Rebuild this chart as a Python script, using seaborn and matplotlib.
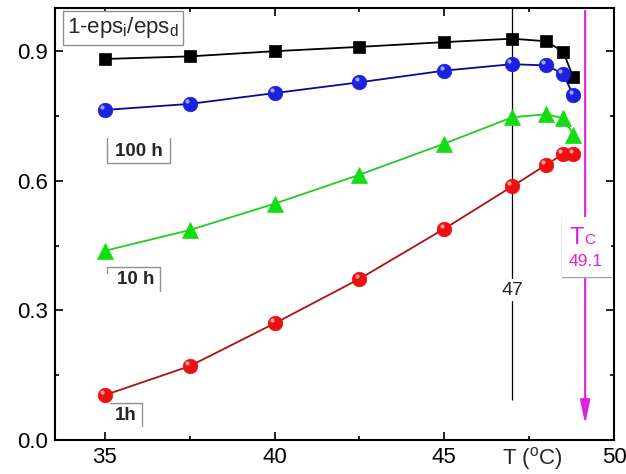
import numpy as np
import pandas as pd
import seaborn as sns
import matplotlib.pyplot as plt
from matplotlib.lines import Line2D
from matplotlib.patches import Rectangle
from matplotlib.ticker import MultipleLocator

# temperatures (deg C) and 1-eps_i/eps_d for each ageing time
temps = [35, 37.5, 40, 42.5, 45, 47, 48, 48.5, 48.8]
h100_sq = [0.882, 0.888, 0.900, 0.910, 0.921, 0.929, 0.923, 0.899, 0.840]
h100_ci = [0.764, 0.778, 0.803, 0.828, 0.855, 0.870, 0.867, 0.848, 0.798]
h10 = [0.438, 0.486, 0.547, 0.614, 0.686, 0.747, 0.754, 0.745, 0.707]
h1 = [0.104, 0.171, 0.270, 0.373, 0.489, 0.587, 0.637, 0.662, 0.662]

x_ticks = [35, 40, 45, 50]
x_labels = ["35", "40", "45", "50"]
y_ticks = [0.0, 0.3, 0.6, 0.9]
y_labels = ["0.0", "0.3", "0.6", "0.9"]
t_mark = 47
t_c = 49.15

sns.set_theme(style="ticks")
plt.rcParams["font.family"] = ["Liberation Sans", "DejaVu Sans"]
plt.rcParams["mathtext.fontset"] = "custom"
plt.rcParams["mathtext.rm"] = "Liberation Sans"
plt.rcParams["mathtext.it"] = "Liberation Sans"

W, H = 626, 474
fig = plt.figure(figsize=(W / 100, H / 100), dpi=100)
ax = fig.add_axes([55 / W, 1 - 440 / H, (614 - 55) / W, (440 - 8) / H])

series = [
    (h100_sq, "s", "black", "black", 9),
    (h100_ci, "o", "#0a0a8c", "#1a22e0", 10.5),
    (h10, "^", "#22cc22", "#11dd11", 11),
    (h1, "o", "#b01010", "#ee1010", 10.5),
]
for vals, mk, lc, fc, ms in series:
    df = pd.DataFrame({"T": temps, "v": vals})
    sns.lineplot(data=df, x="T", y="v", ax=ax, color=lc, marker=mk,
                 markersize=ms, markerfacecolor=fc, markeredgecolor=fc,
                 markeredgewidth=0.5, linewidth=1.3, zorder=3)
    if mk == "o":
        # little highlight for the sphere look
        ax.plot(np.array(temps) - 0.08, np.array(vals) + 0.007, "o",
                ms=3, color="white", alpha=0.6, zorder=4, mec="none")

ax.set_xlim(33.53, 50)
ax.set_ylim(0, 1.0)
ax.set_xticks(x_ticks)
ax.set_xticklabels(x_labels)
ax.set_yticks(y_ticks)
ax.set_yticklabels(y_labels)
ax.xaxis.set_minor_locator(MultipleLocator(2.5))
ax.yaxis.set_minor_locator(MultipleLocator(0.15))
ax.tick_params(which="both", direction="in", top=True, right=True,
               labelsize=16, color="black", labelcolor="black", width=1.2)
ax.tick_params(which="major", length=6, pad=5)
ax.tick_params(which="minor", length=3)
for s in ax.spines.values():
    s.set_linewidth(1.5)
    s.set_color("black")
ax.set_xlabel("")
ax.set_ylabel("")

# vertical marker at 47
ax.vlines(t_mark, 0.093, 1.0, color="black", linewidth=0.9, zorder=2)
ax.text(t_mark, 0.347, "47", ha="center", va="center", fontsize=14,
        zorder=5, bbox=dict(facecolor="white", edgecolor="none", pad=1.5))

# Tc arrow
ax.annotate("", xy=(t_c, 0.03), xytext=(t_c, 1.0),
            arrowprops=dict(arrowstyle="-|>,head_width=0.25,head_length=1.2",
                            color="#e020e0", lw=1.5), zorder=2)


def fx(x):
    return x / W


def fy(y):
    return 1 - y / H


def frame(segs, color="#909090"):
    for (x0, y0), (x1, y1) in segs:
        fig.add_artist(Line2D([fx(x0), fx(x1)], [fy(y0), fy(y1)],
                              color=color, lw=1.0, transform=fig.transFigure))


# T (oC) sitting between the tick labels
fig.text(fx(532), fy(458), "T ($^\\mathrm{o}$C)", ha="center", va="center",
         fontsize=16)

# Tc box
fig.add_artist(Rectangle((fx(562), fy(277)), (611 - 562) / W, (277 - 217) / H,
                         facecolor="white", edgecolor="none",
                         transform=fig.transFigure, zorder=4))
frame([((562, 217), (562, 277)), ((562, 277), (611, 277))], "#a0a0a0")
fig.text(fx(577), fy(244), "T", color="#e020e0", fontsize=17, ha="center",
         va="baseline", zorder=5)
fig.text(fx(590), fy(244), "C", color="#e020e0", fontsize=11, ha="center",
         va="baseline", zorder=5)
fig.text(fx(586), fy(261), "49.1", color="#e020e0", fontsize=12.5,
         ha="center", va="center", zorder=5)

# quantity label
fig.text(fx(123), fy(28), "1-eps$_\\mathrm{i}$/eps$_\\mathrm{d}$",
         fontsize=16, ha="center", va="center",
         bbox=dict(facecolor="white", edgecolor="#909090", lw=1.0,
                   boxstyle="square,pad=0.2"))

# ageing-time labels
fig.text(fx(139), fy(151), "100 h", fontsize=13.5, fontweight="bold",
         ha="center", va="center")
frame([((107, 138), (107, 163)), ((107, 163), (170, 163)),
       ((170, 138), (170, 163))])
fig.text(fx(136), fy(280), "10 h", fontsize=13.5, fontweight="bold",
         ha="center", va="center")
frame([((107, 267), (160, 267)), ((160, 267), (160, 291)),
       ((107, 267), (107, 273))])
fig.text(fx(126), fy(416), "1h", fontsize=13.5, fontweight="bold",
         ha="center", va="center")
frame([((110, 403), (142, 403)), ((142, 403), (142, 426))])

fig.savefig("out.png", dpi=100)
